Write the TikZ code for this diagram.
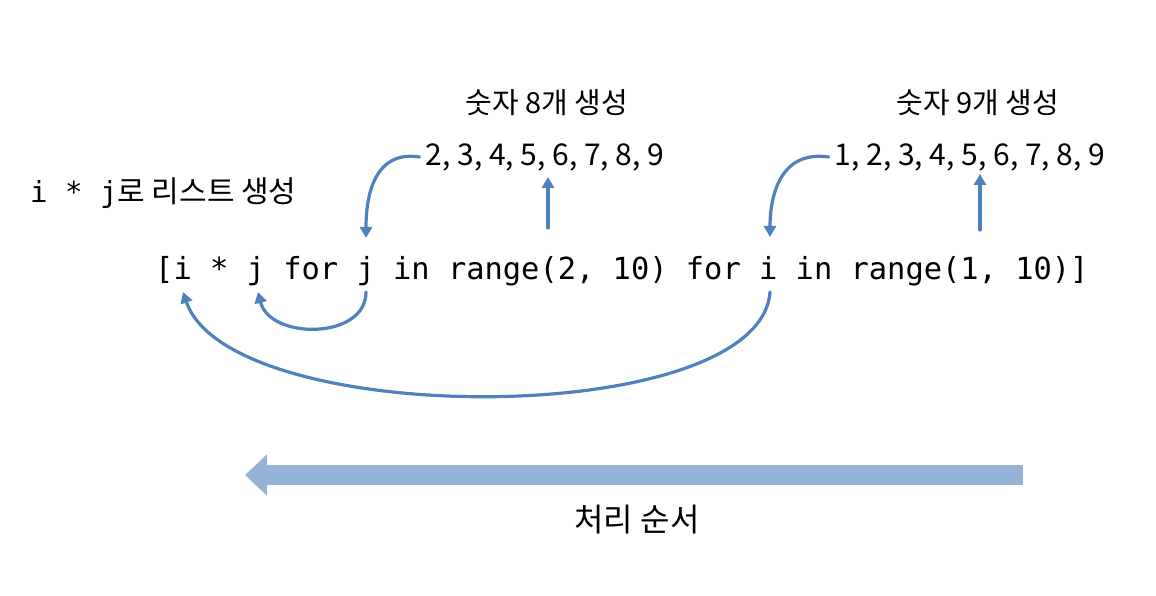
\documentclass[tikz,border=0pt]{standalone}
\usepackage{fontspec}
\setmainfont{Noto Sans CJK KR}
\setmonofont{DejaVu Sans Mono}
\usetikzlibrary{arrows.meta}
\definecolor{flowblue}{RGB}{79,129,189}
\definecolor{orderblue}{RGB}{149,179,215}

\begin{document}
\begin{tikzpicture}[line cap=round,line join=round,>={Triangle[width=12pt,length=11pt]},x=1pt,y=1pt,
  flow/.style={->,flowblue,line width=3.2pt},
  lbl/.style={inner sep=2pt,font=\fontsize{29}{32}\selectfont},
  seqlbl/.style={inner sep=2pt,font=\fontsize{30}{32}\selectfont}]
\useasboundingbox (0,0) rectangle (1156,596);
% labels
\node[lbl] (cnt8) at (547,493) {숫자 8개 생성};
\node[seqlbl] (seq8) at (545,439) {2, 3, 4, 5, 6, 7, 8, 9};
\node[lbl] (cnt9) at (978,493) {숫자 9개 생성};
\node[seqlbl] (seq9) at (970,439) {1, 2, 3, 4, 5, 6, 7, 8, 9};
\node[lbl,anchor=west,font=\fontsize{30}{32}\selectfont] (result) at (28,403) {{\ttfamily\fontsize{29}{30}\selectfont i * j}로 리스트 생성};
\node[anchor=base west,inner sep=0pt,font=\ttfamily\fontsize{30.4}{34}\selectfont] (code) at (155,316)
  {[i * j for j in range(2, 10) for i in range(1, 10)]};
\node[lbl,font=\fontsize{32}{34}\selectfont] (order) at (637,76) {처리 순서};
% points on the code line
\coordinate (jtop) at (366,358);
\coordinate (jbot) at (366,304);
\coordinate (itop) at (770,359);
\coordinate (ibot) at (770,304);
\coordinate (jres) at (258,304);
\coordinate (ires) at (183,304);
\coordinate (rng2) at (548,368);
\coordinate (rng1) at (980,366);
% connectors
\draw[flow] ([xshift=-4pt]seq8.west) .. controls (374,446) and (366,400) .. (jtop);
\draw[flow] ([xshift=-4pt]seq9.west) .. controls (780,446) and (770,400) .. (itop);
\draw[flow] (rng2) -- ([yshift=-4pt]rng2 |- seq8.south);
\draw[flow] (rng1) -- ([yshift=-1pt]rng1 |- seq9.south);
\draw[flow] (jbot) .. controls (366,256) and (270,256) .. (jres);
\draw[flow] (ibot) .. controls (760,166) and (230,166) .. (ires);
% processing order
\coordinate (otail) at (1023,121);
\coordinate (ohead) at (245,121);
\draw[orderblue,line width=20pt,line cap=butt,-{Triangle[length=22pt,width=40pt]}] (otail) -- (ohead);
\end{tikzpicture}
\end{document}
